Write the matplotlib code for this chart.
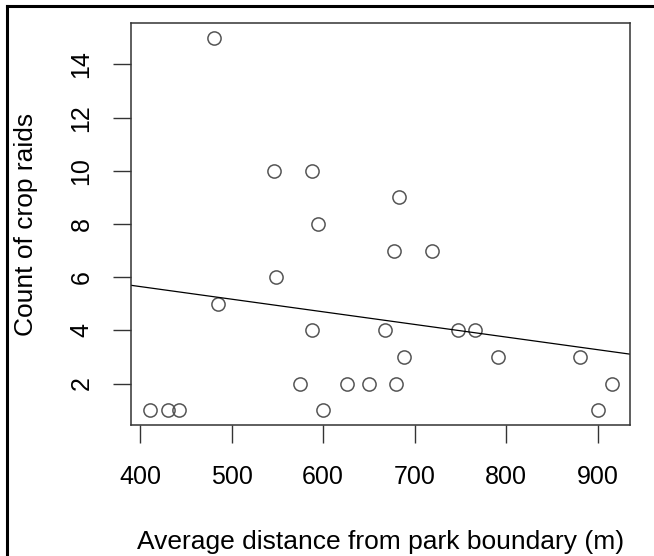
import numpy as np
import matplotlib
matplotlib.use("Agg")
import matplotlib.pyplot as plt
from matplotlib.lines import Line2D

# distance (m) and crop raid counts
distance = [411, 430, 442, 481, 485, 546, 549, 575, 588, 594, 588, 600, 626,
            650, 668, 677, 683, 680, 688, 719, 747, 766, 791, 881, 901, 916]
raids = [1, 1, 1, 15, 5, 10, 6, 2, 10, 8, 4, 1, 2,
         2, 4, 7, 9, 2, 3, 7, 4, 4, 3, 3, 1, 2]
xticks = [400, 500, 600, 700, 800, 900]
yticks = [2, 4, 6, 8, 10, 12, 14]

plt.rcParams['font.family'] = ['Liberation Sans', 'DejaVu Sans']
FS = 18

fig = plt.figure(figsize=(6.54, 5.56), dpi=100)
ax = fig.add_axes([131 / 654, 131 / 556, 499 / 654, 402 / 556])

ax.plot(distance, raids, 'o', mfc='none', mec='#555555', mew=1.1, ms=9.5, ls='none')

# straight least-squares line across the whole box, like abline(lm(...))
slope, icpt = np.polyfit(distance, raids, 1)
ax.axline((0, icpt), slope=slope, color='black', lw=0.9)

ax.set_xlim(390, 935.5)
ax.set_ylim(0.44, 15.56)
ax.set_xticks(xticks)
ax.set_yticks(yticks)
ax.tick_params(axis='both', length=13, width=1, color='#333333', labelsize=FS)
ax.tick_params(axis='x', pad=15.5)
ax.tick_params(axis='y', labelrotation=90, pad=14)
for lab in ax.get_yticklabels():
    lab.set_va('center')
for sp in ax.spines.values():
    sp.set_color('#333333')
    sp.set_linewidth(1.1)

ax.set_xlabel('Average distance from park boundary (m)', fontsize=19, labelpad=29.5)
ax.set_ylabel('Count of crop raids', fontsize=19, labelpad=22.5)

# cropped outer frame (top and left edges only)
fig.add_artist(Line2D([7 / 654, 1], [1 - 6 / 556, 1 - 6 / 556], color='black', lw=2.2, transform=fig.transFigure))
fig.add_artist(Line2D([7 / 654, 7 / 654], [0, 1 - 6 / 556], color='black', lw=2.2, transform=fig.transFigure))

fig.savefig('out.png', dpi=100)
